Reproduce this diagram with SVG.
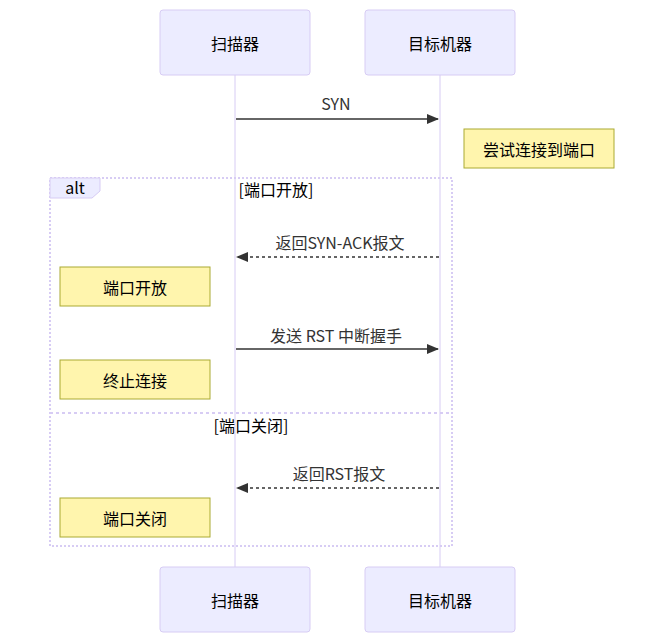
<svg xmlns="http://www.w3.org/2000/svg" width="665" height="643" viewBox="0 0 665 643">
<defs>
<style>
text{font-family:"Noto Sans CJK SC","Noto Sans",sans-serif;}
.actor{fill:#ECECFF;stroke:#D7CCF4;stroke-width:1;}
.atext{font-size:16px;fill:#000;text-anchor:middle;dominant-baseline:central;}
.life{stroke:#D7CCF4;stroke-width:1;}
.note{fill:#FFF5AD;stroke:#AAAA33;stroke-width:1;}
.ntext{font-size:16px;fill:#000;text-anchor:middle;dominant-baseline:central;}
.msg{stroke:#333;stroke-width:1.5;fill:none;}
.dash{stroke-dasharray:3,3;}
.mtext{font-size:16px;fill:#333;text-anchor:middle;}
.loop{fill:none;stroke:#D7CCF4;stroke-width:2;stroke-dasharray:2,2;}
.sep{fill:none;stroke:#D7CCF4;stroke-width:2;stroke-dasharray:3,3;}
.ltext{font-size:16px;fill:#000;}
</style>
<marker id="ah" viewBox="0 0 12 10" refX="11" refY="5" markerWidth="12" markerHeight="10" markerUnits="userSpaceOnUse" orient="auto">
<path d="M0,0 L12,5 L0,10 z" fill="#333"/>
</marker>
</defs>
<g id="lifelines">
<line class="life" x1="235" y1="75" x2="235" y2="567"/>
<line class="life" x1="440" y1="75" x2="440" y2="567"/>
</g>
<g id="actor-scanner-top"><rect class="actor" x="160" y="10" width="150" height="65" rx="3"/><text class="atext" x="235" y="43">扫描器</text></g>
<g id="actor-target-top"><rect class="actor" x="365" y="10" width="150" height="65" rx="3"/><text class="atext" x="440" y="43">目标机器</text></g>
<g id="actor-scanner-bottom"><rect class="actor" x="160" y="567" width="150" height="65" rx="3"/><text class="atext" x="235" y="600">扫描器</text></g>
<g id="actor-target-bottom"><rect class="actor" x="365" y="567" width="150" height="65" rx="3"/><text class="atext" x="440" y="600">目标机器</text></g>
<g id="note-try"><rect class="note" x="464" y="129" width="150" height="39"/><text class="ntext" x="539" y="149">尝试连接到端口</text></g>
<g id="alt-frame">
<rect class="loop" x="50" y="178" width="402" height="368"/>
<polygon points="50,178 100,178 100,191 92,198 50,198" fill="#ECECFF" stroke="#D7CCF4" stroke-width="1"/>
<text class="ltext" x="75" y="194" text-anchor="middle">alt</text>
<text class="ltext" x="276" y="196" text-anchor="middle">[端口开放]</text>
<line class="sep" x1="50" y1="413" x2="452" y2="413"/>
<text class="ltext" x="251" y="432" text-anchor="middle">[端口关闭]</text>
</g>
<g id="note-open"><rect class="note" x="60" y="267" width="150" height="39"/><text class="ntext" x="135" y="287">端口开放</text></g>
<g id="note-stop"><rect class="note" x="60" y="360" width="150" height="39"/><text class="ntext" x="135" y="380">终止连接</text></g>
<g id="note-closed"><rect class="note" x="60" y="498" width="150" height="39"/><text class="ntext" x="135" y="518">端口关闭</text></g>
<g id="connectors">
<line class="msg" x1="236" y1="119" x2="438" y2="119" marker-end="url(#ah)"/>
<text class="mtext" x="336" y="110">SYN</text>
<line class="msg dash" x1="439" y1="257" x2="237" y2="257" marker-end="url(#ah)"/>
<text class="mtext" x="340" y="249">返回SYN-ACK报文</text>
<line class="msg" x1="236" y1="349" x2="438" y2="349" marker-end="url(#ah)"/>
<text class="mtext" x="336" y="342">发送 RST 中断握手</text>
<line class="msg dash" x1="439" y1="488" x2="237" y2="488" marker-end="url(#ah)"/>
<text class="mtext" x="339" y="480">返回RST报文</text>
</g>
</svg>
